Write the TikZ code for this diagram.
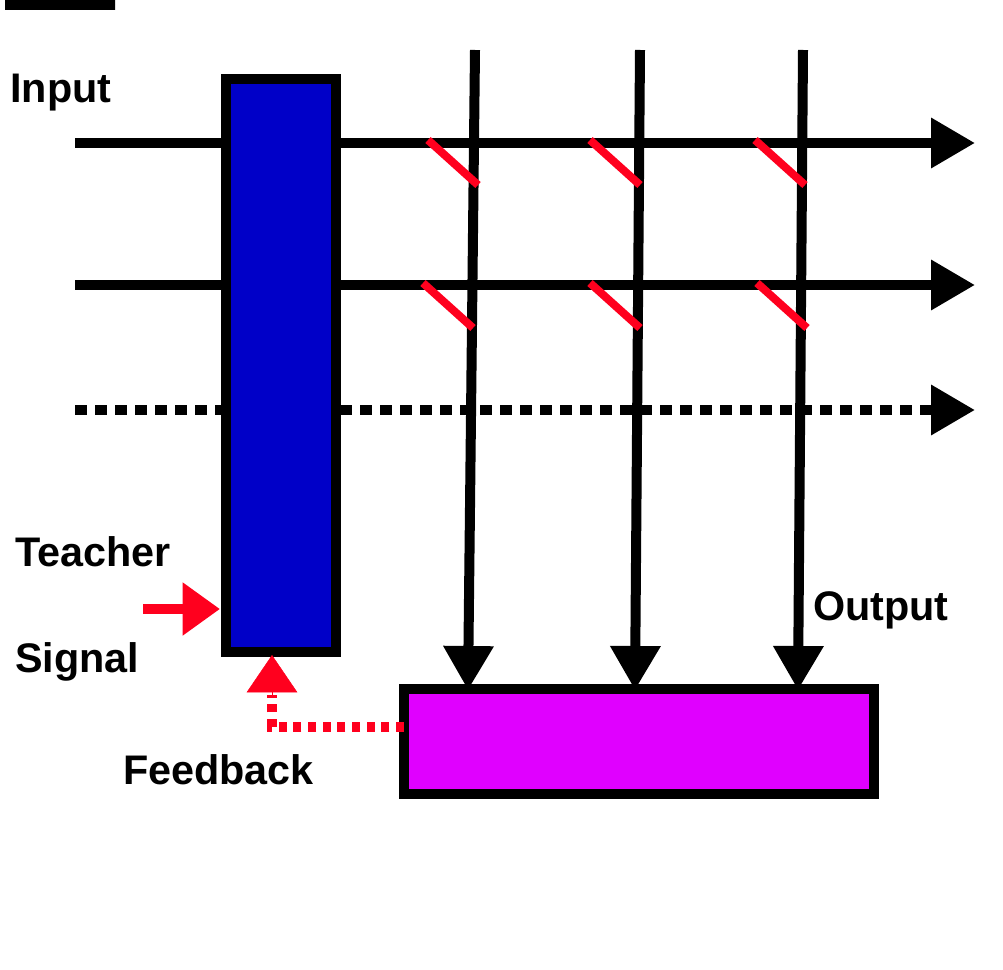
\documentclass[tikz,border=0pt]{standalone}
\usepackage{fontspec}
\setmainfont{Liberation Sans}
\usetikzlibrary{arrows.meta}
\definecolor{bl}{RGB}{0,0,200}
\definecolor{mg}{RGB}{224,0,255}
\definecolor{rd}{RGB}{255,0,30}
\begin{document}
\begin{tikzpicture}[x=0.75pt,y=-0.75pt,
  wire/.style={line width=7.5pt,-{Triangle[length=33pt,width=36pt]}},
  dotwire/.style={wire,dash pattern=on 9pt off 6pt},
  slash/.style={rd,line width=6pt},
  lbl/.style={font=\bfseries\fontsize{31}{31}\selectfont,inner sep=0pt},
  box/.style={draw=black,line width=7.5pt}]
\useasboundingbox (0,0) rectangle (1003,970);
\coordinate (i1) at (75,143); \coordinate (o1) at (975,143);
\coordinate (i2) at (75,285); \coordinate (o2) at (975,285);
\coordinate (i3) at (75,410); \coordinate (o3) at (975,410);
\draw[line width=7.5pt] (i1) -- (222,143);
\draw[line width=7.5pt] (i2) -- (222,285);
\draw[line width=7.5pt,dash pattern=on 9pt off 6pt] (i3) -- (222,410);
\draw[wire] (340,143) -- (o1);
\draw[wire] (340,285) -- (o2);
\draw[dotwire] (340,410) -- (o3);
\foreach \x/\b in {475/468,640/635,803/798}{
  \coordinate (t\x) at (\x,50);
  \draw[wire] (t\x) -- (\b,690);
}
\foreach \a/\b in {428/140,590/140,755/140,423/283,590/283,757/283}
  \draw[slash] (\a,\b) -- ++(50,45);
\node[box,fill=bl,minimum width=110pt*0.75/0.75*0.75,minimum height=0pt,inner sep=0pt,anchor=north west] (res) at (0,0) {};
\fill[bl,draw=black,line width=7.5pt] (226,79) rectangle (336,652);
\coordinate (rtop) at (281,79);
\fill[mg,draw=black,line width=7.5pt] (404,689) rectangle (874,794);
\coordinate (fb) at (404,727);
\draw[rd,line width=7.5pt,-{Triangle[length=28pt,width=38pt]}] (143,609) -- (220,609);
\draw[rd,line width=7.5pt,dash pattern=on 6pt off 5pt] (fb) -- (272,727) -- (272,695);
\draw[rd,-{Triangle[length=28pt,width=38pt]}] (272,695) -- (272,655);
\node[lbl,anchor=west] (inl) at (10,93) {Input};
\node[lbl,anchor=west] (tl) at (15,552) {Teacher};
\node[lbl,anchor=west] (sl) at (15,662) {Signal};
\node[lbl,anchor=west] (ol) at (813,610) {Output};
\node[lbl,anchor=west] (fl) at (123,770) {Feedback};
\end{tikzpicture}
\end{document}
